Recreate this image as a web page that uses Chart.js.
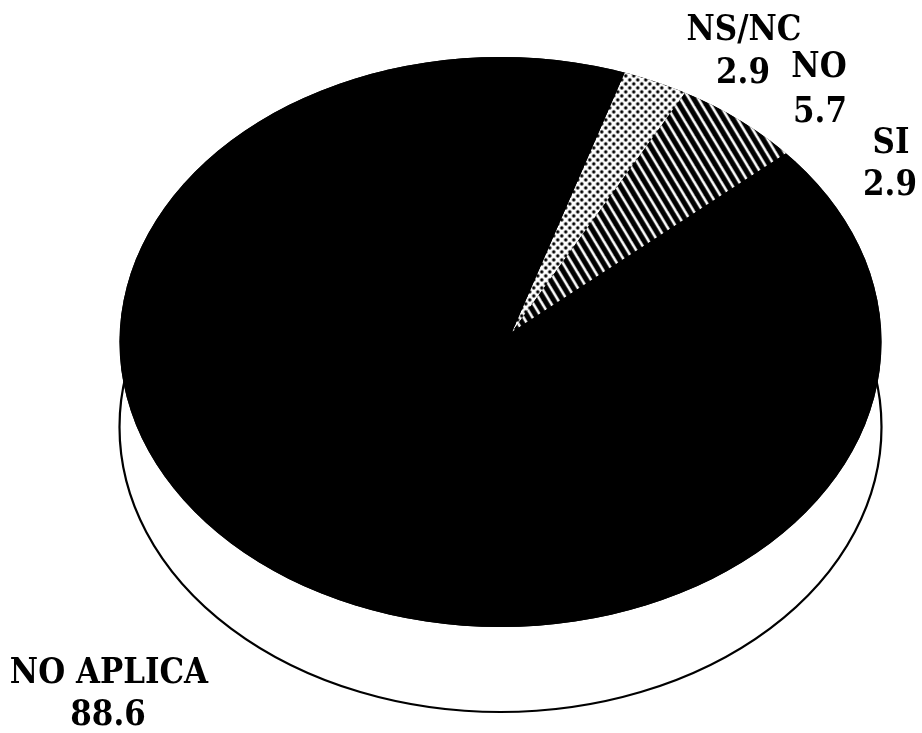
<!DOCTYPE html>
<html>
<head>
<meta charset="utf-8">
<style>html,body{margin:0;padding:0;background:#fff}canvas{display:block}</style>
<script src="https://cdn.jsdelivr.net/npm/chart.js@4"></script>
</head>
<body>
<canvas id="c" width="922" height="733"></canvas>
<script>
const categories = ["NS/NC", "NO", "SI", "NO APLICA"];
const seriesValues = [2.9, 5.7, 2.9, 88.6];
const valueLabels = ["2.9", "5.7", "2.9", "88.6"];

const FACE = {cx: 500.5, cy: 342, rx: 381, ry: 285, depth: 85};
const APEX = {x: 512, y: 332};
const LABEL_POS = [[744, 40, 743, 83], [819, 77, 820, 122], [891, 153, 890, 195], [109, 683, 108, 725]];
const COVER = 420;

function tile(w, h, paint) {
  const t = document.createElement('canvas');
  t.width = w; t.height = h;
  paint(t.getContext('2d'));
  return t;
}
const dotTile = tile(8, 8, g => {
  g.fillStyle = '#fff'; g.fillRect(0, 0, 8, 8);
  g.fillStyle = '#000';
  [[2, 2], [6, 6]].forEach(p => { g.beginPath(); g.arc(p[0], p[1], 1.7, 0, 7); g.fill(); });
});
const hatchTile = tile(9, 15, g => {
  g.fillStyle = '#000'; g.fillRect(0, 0, 9, 15);
  g.strokeStyle = '#fff'; g.lineWidth = 2.6;
  for (let k = -9; k <= 9; k += 9) {
    g.beginPath(); g.moveTo(k - 4.5, -7.5); g.lineTo(k + 13.5, 22.5); g.stroke();
  }
});
const ctx0 = document.getElementById('c').getContext('2d');
const dotPattern = ctx0.createPattern(dotTile, 'repeat');
const hatchPattern = ctx0.createPattern(hatchTile, 'repeat');

function stretchedText(c, text, x, y) {
  c.save();
  c.translate(x, y);
  c.scale(0.86, 1);
  c.fillText(text, 0, 0);
  c.restore();
}

const pieFrame = {
  id: 'pieFrame',
  beforeDatasetsDraw(chart) {
    const c = chart.ctx, arc = chart.getDatasetMeta(0).data[0];
    const sx = COVER / arc.outerRadius, sy = sx * FACE.ry / FACE.rx;
    const inv = new DOMMatrix().scale(1 / sx, 1 / sy);
    dotPattern.setTransform(inv); hatchPattern.setTransform(inv);
    c.save();
    c.beginPath();
    c.ellipse(FACE.cx, FACE.cy + FACE.depth, FACE.rx, FACE.ry, 0, 0, Math.PI * 2);
    c.fillStyle = '#fff'; c.fill();
    c.strokeStyle = '#000'; c.lineWidth = 2.2; c.stroke();
    c.beginPath();
    c.ellipse(FACE.cx, FACE.cy, FACE.rx, FACE.ry, 0, 0, Math.PI * 2);
    c.fillStyle = '#000'; c.fill();
    c.clip();
    c.translate(APEX.x, APEX.y);
    c.scale(sx, sy);
    c.translate(-arc.x, -arc.y);
  },
  afterDatasetsDraw(chart) {
    chart.ctx.restore();
  },
  afterDraw(chart) {
    const c = chart.ctx;
    c.save();
    c.fillStyle = '#000';
    c.font = 'bold 36px "DejaVu Serif"';
    c.textAlign = 'center';
    c.textBaseline = 'alphabetic';
    categories.forEach((name, i) => {
      const p = LABEL_POS[i];
      stretchedText(c, name, p[0], p[1]);
      stretchedText(c, valueLabels[i], p[2], p[3]);
    });
    c.restore();
  }
};

new Chart(document.getElementById('c'), {
  type: 'pie',
  data: {
    labels: categories,
    datasets: [{
      data: seriesValues,
      backgroundColor: [dotPattern, hatchPattern, '#000', '#000'],
      borderWidth: 0
    }]
  },
  options: {
    responsive: false,
    animation: false,
    rotation: 18,
    layout: {padding: 0},
    plugins: {legend: {display: false}, tooltip: {enabled: false}, title: {display: false}}
  },
  plugins: [pieFrame]
});
</script>
</body>
</html>
